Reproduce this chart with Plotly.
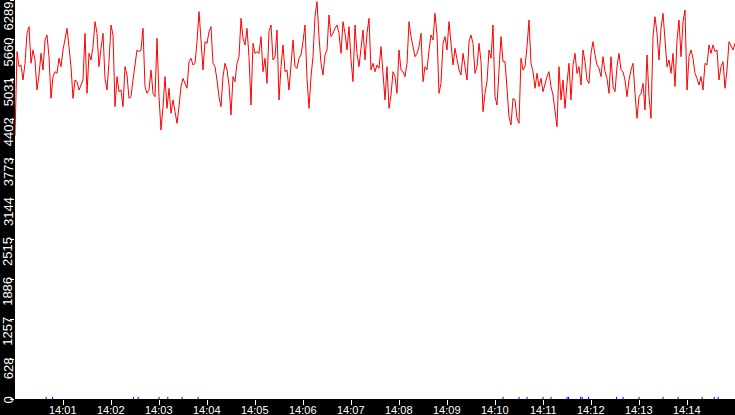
import pandas as pd
import plotly.graph_objects as go

# ---- data ----
start_time = "2024-01-01 14:00:00"
sample_step = "2500ms"

values_a = [4150,5475,5238,5265,5028,5291,5764,5869,5291,5501,5343,4870,5107,5448,5186,5659,5737,5396,4739,5081,
            5159,5133,5370,5238,5501,5659,5842,5553,5238,4739,5028,5002,4870,4949,5028,5764,4818,5448,5343,5553,
            5948,5764,5238,5527,5764,5054,4870,5317,5895,5737,4608,5081,4844,4870,4608,5238]
values_b = [5107,4739,4765,5028,5291,5501,5475,5501,5842,4923,4818,4870,5186,4818,4765,5685,4765,4240,4608,5081,
            4581,4897,4503,4713,4529,4345,4608,4923,5054,4976,4897,5317,5370,5265,5291,5632,6105,5659,5186,5632,
            5606,5790,5869,5291,5238,5028,4765,4608,5081,5291,5186,4949,4476,5081,5002]
values_c = [5291,5396,6000,5685,5580,5842,5396,4634,5606,5448,5475,5448,5711,5159,5370,4976,5790,5895,5343,5396,
            5816,4713,5238,5580,5159,5186,4870,5343,5659,5238,5212,5370,5422,5632,5895,5054,4581,5081,5396,6026,
            6263,5711,5291,5107,5422,5501,6053,5711,5764,5842,5895,5764,5448,5948,5764]
values_d = [5501,5869,5343,5002,5895,5448,5238,5553,5816,5343,5764,6000,5186,5291,5159,5265,5212,5553,5081,4713,
            5238,4581,4792,5159,5081,4818,5501,5186,5159,5081,5291,5948,5711,5553,5396,5448,5553,5764,5002,5238,
            5186,5501,5737,5659,6079,5737,4818,4976,5606,5711,5501,5948,5659,5265,5527]
values_e = [5343,5186,5107,5448,5238,5028,5632,5737,5606,5133,5238,5606,5317,4529,4818,5002,5501,5370,5895,4765,
            4634,5186,5711,5317,5317,4897,4450,4319,4739,4713,4424,4345,5370,5186,5238,5553,5974,5291,5159,4897,
            5133,4923,5054,4844,4976,5081,5159,4923,4792,4581,4292,5238,4713,5028,4581]
values_f = [4976,5291,4713,5265,5448,5133,5238,4949,5501,5317,5028,4976,5448,5632,5422,5265,5212,5081,5396,5159,
            5054,4818,5396,4923,4844,5238,5448,5186,5159,5028,4765,5028,5186,5291,4818,4424,4765,4818,4976,4555,
            5422,4765,4424,5711,6026,5764,5343,5842,6079,5606,5238,5343,5133,5448,4923]
values_g = [5659,5974,5396,5948,6131,4870,5396,5501,5370,5133,5054,4949,5081,4870,5291,5265,5580,5448,5580,5475,
            5501,5028,5238,5317,4897,5186,5632,5553,5501,5606]

event_times = ["14:00:39","14:00:47","14:02:28","14:02:34","14:03:00","14:03:11","14:03:29","14:03:49",
               "14:10:10","14:10:30","14:10:40","14:11:00","14:11:10","14:11:30","14:11:32","14:11:47",
               "14:11:49","14:11:57","14:12:32","14:12:40","14:13:00","14:13:30","14:13:49","14:14:19",
               "14:14:34","14:14:39"]
event_value = 12

y_ticks = [0, 628, 1257, 1886, 2515, 3144, 3773, 4402, 5031, 5660, 6289]
x_tick_labels = ["14:01","14:02","14:03","14:04","14:05","14:06","14:07",
                 "14:08","14:09","14:10","14:11","14:12","14:13","14:14"]
x_range = ["2024-01-01 14:00:00", "2024-01-01 14:15:00"]

values = values_a + values_b + values_c + values_d + values_e + values_f + values_g
times = pd.date_range(start_time, periods=len(values), freq=sample_step)
ev_x = ["2024-01-01 " + t for t in event_times]
x_tick_vals = ["2024-01-01 " + t + ":00" for t in x_tick_labels]

fig = go.Figure()
fig.add_trace(go.Scatter(x=times, y=values, mode="lines",
                         line=dict(color="#ff0000", width=1),
                         hoverinfo="skip", showlegend=False))
fig.add_trace(go.Scatter(x=ev_x, y=[event_value] * len(ev_x), mode="markers",
                         marker=dict(symbol="line-ns", size=2, color="blue",
                                     line=dict(color="blue", width=1)),
                         cliponaxis=False, hoverinfo="skip", showlegend=False))

y_top = max(y_ticks)
for v in y_ticks:
    fig.add_annotation(xref="paper", yref="y", x=0, y=v, xshift=-7,
                       yshift=(4 if v < y_top else 0),
                       text=str(v), textangle=-90, showarrow=False,
                       xanchor="center", yanchor="top",
                       font=dict(family="Liberation Sans Narrow, Liberation Sans, DejaVu Sans Condensed",
                                 size=13, color="white"))

for tv, tl in zip(x_tick_vals, x_tick_labels):
    fig.add_annotation(xref="x", yref="paper", x=tv, y=0, yshift=-4,
                       text=tl, showarrow=False, xanchor="center", yanchor="top",
                       borderpad=0,
                       font=dict(family="Liberation Sans, Arial", size=11, color="white"))

fig.update_layout(
    width=735, height=415,
    margin=dict(l=15, r=0, t=0, b=16, pad=0),
    paper_bgcolor="black", plot_bgcolor="white",
    showlegend=False,
)
fig.update_xaxes(type="date", range=x_range, tickvals=x_tick_vals, showticklabels=False,
                 ticks="outside", ticklen=5, tickwidth=1, tickcolor="white",
                 showgrid=False, zeroline=False, showline=False)
fig.update_yaxes(range=[0, 6289], tickvals=y_ticks, showticklabels=False,
                 ticks="outside", ticklen=4, tickwidth=1, tickcolor="white",
                 showgrid=False, zeroline=False, showline=False)

fig.write_html("out.html", config={"displayModeBar": False},
               post_script="document.body.style.margin='0';document.body.style.background='black';")
